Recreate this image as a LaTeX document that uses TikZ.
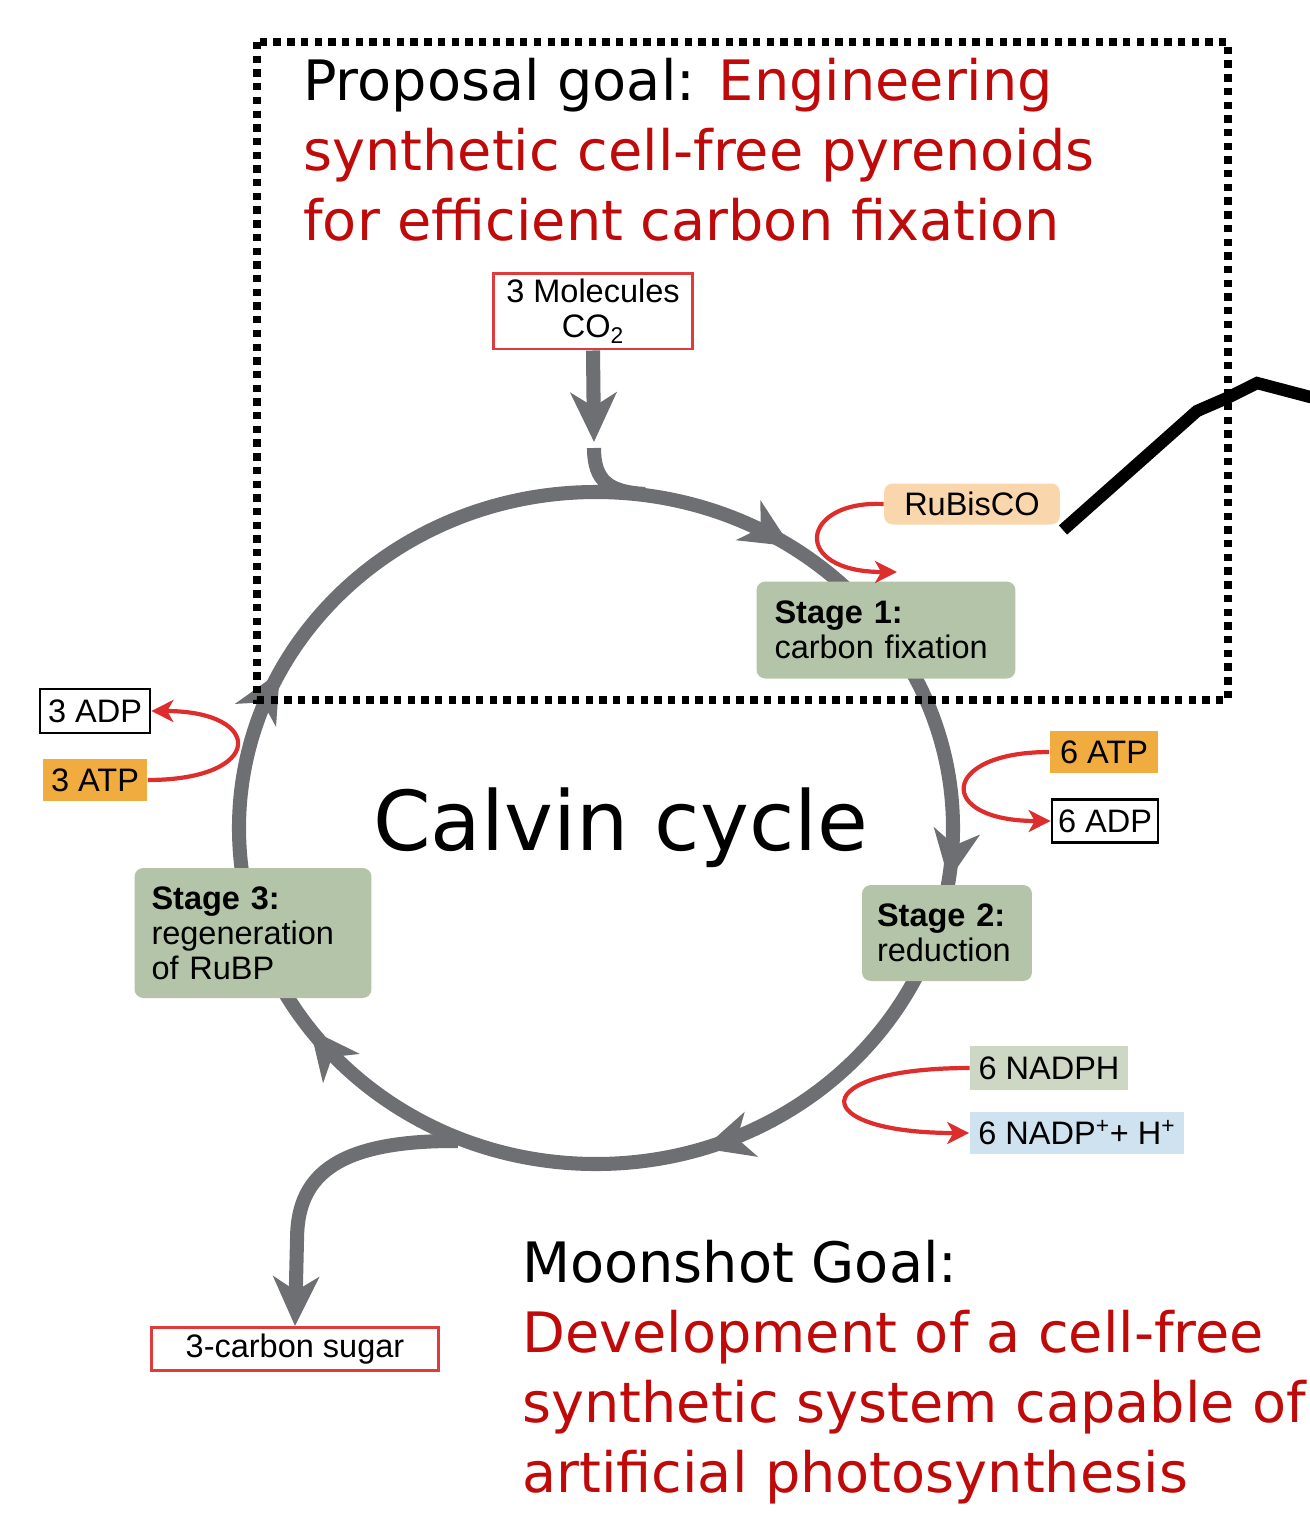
\documentclass[tikz,border=0pt]{standalone}
\usepackage{fontspec}
\setmainfont{Liberation Sans}
\newfontfamily\headfont{DejaVu Sans}
\usetikzlibrary{arrows.meta,decorations.markings}
\definecolor{cycgray}{RGB}{110,111,115}
\definecolor{goalred}{RGB}{192,10,10}
\definecolor{arrred}{RGB}{222,45,45}
\definecolor{boxred}{RGB}{222,60,60}
\definecolor{stagegreen}{RGB}{180,196,168}
\definecolor{atporange}{RGB}{240,172,62}
\definecolor{rubpeach}{RGB}{250,214,172}
\definecolor{nadphgreen}{RGB}{206,215,196}
\definecolor{nadpblue}{RGB}{206,226,240}
\tikzset{
  cyctip/.tip={Stealth[length=28pt,width=26pt,inset=8pt]},
  redtip/.tip={Stealth[length=12.5pt,width=12.5pt,inset=3.5pt]},
  cycline/.style={draw=cycgray, line width=8pt},
  cycarrows/.style={decoration={
    markings,
    mark=at position 0.094 with {\arrow{cyctip}},
    mark=at position 0.274 with {\arrow{cyctip}},
    mark=at position 0.450 with {\arrow{cyctip}},
    mark=at position 0.650 with {\arrow{cyctip}},
    mark=at position 0.825 with {\arrow{cyctip}}},
    postaction={decorate}},
  redarr/.style={draw=arrred, line width=2.4pt, -{redtip}},
  label/.style={font=\fontsize{18.5}{20}\selectfont, inner sep=0pt, align=center},
  stagebox/.style={label, fill=stagegreen, rounded corners=5pt, align=left},
  head/.style={font=\headfont\fontsize{31.7}{38}\selectfont, inner sep=0pt, anchor=base west}
}

\begin{document}
\begin{tikzpicture}[x=0.02cm,y=-0.02cm]
  \useasboundingbox (0,0) rectangle (1310,1526);

  % Calvin cycle ring
  \draw[cycline, cycarrows] (596,492) arc[start angle=-90, end angle=270, x radius=357, y radius=336];

  % CO2 in and sugar out
  \coordinate (co2tip) at (594,442);
  \coordinate (stubtop) at (594,448);
  \coordinate (fork) at (458,1141);
  \draw[cycline] (stubtop) .. controls (594,482) and (610,492) .. (645,494);

  % Boxes
  \node[label, draw=boxred, line width=1.7pt, fill=white, minimum width=4cm, minimum height=1.52cm] (co2) at (593,311) {3 Molecules\\CO\textsubscript{2}};
  \node[label, fill=rubpeach, rounded corners=5pt, minimum width=3.52cm, minimum height=0.82cm] (rub) at (972,504) {RuBisCO};
  \node[stagebox, inner xsep=0.36cm, text width=4.46cm, minimum height=1.94cm] (st1) at (886,630) {\textbf{Stage 1:}\\carbon fixation};
  \node[label, fill=atporange, minimum width=2.18cm, minimum height=0.84cm] (atp6) at (1104,752) {6 ATP};
  \node[label, draw=black, line width=1.6pt, fill=white, minimum width=2.12cm, minimum height=0.86cm] (adp6) at (1105,821) {6 ADP};
  \node[stagebox, inner xsep=0.3cm, text width=2.8cm, minimum height=1.92cm] (st2) at (947,933) {\textbf{Stage 2:}\\reduction};
  \node[label, fill=nadphgreen, minimum width=3.16cm, minimum height=0.88cm] (nadph) at (1049,1068) {6 NADPH};
  \node[label, fill=nadpblue, minimum width=4.3cm, minimum height=0.84cm] (nadp) at (1077,1133) {6 NADP\textsuperscript{+}+ H\textsuperscript{+}};
  \node[stagebox, inner xsep=0.34cm, text width=4.06cm, minimum height=2.6cm] (st3) at (253,933) {\textbf{Stage 3:}\\regeneration\\of RuBP};
  \node[label, draw=black, line width=1.6pt, fill=white, minimum width=2.2cm, minimum height=0.88cm] (adp3) at (95,711) {3 ADP};
  \node[label, fill=atporange, minimum width=2.1cm, minimum height=0.84cm] (atp3) at (95,780) {3 ATP};
  \node[label, draw=boxred, line width=1.7pt, fill=white, minimum width=5.74cm, minimum height=0.86cm] (sugar) at (295,1349) {3-carbon sugar};

  \draw[cycline, -{cyctip}] (co2.south) -- (co2tip);
  \draw[cycline, -{cyctip}] (fork) .. controls (330,1140) and (297,1180) .. (297,1240) -- (sugar.north);

  % Red side reactions
  \coordinate (rubend) at (897,572);
  \draw[redarr] (rub.west) .. controls (800,500) and (790,572) .. (rubend);
  \draw[redarr] (atp6.west) .. controls (940,752) and (935,821) .. (adp6.west);
  \draw[redarr] (nadph.west) .. controls (805,1068) and (805,1133) .. (nadp.west);
  \draw[redarr] (atp3.east) .. controls (265,780) and (265,711) .. (adp3.east);

  % Proposal frame and pointer
  \draw[line width=4.2pt, dash pattern=on 4.2pt off 3.6pt] (257,42) rectangle (1228,700);
  \draw[line width=7pt] (1063,530) -- (1197,411) -- (1227,398) -- (1257,383) -- (1314,398);

  % Titles
  \node[head] (pg1) at (303,100) {Proposal goal: \textcolor{goalred}{Engineering}};
  \node[head, goalred] (pg2) at (303,170) {synthetic cell-free pyrenoids};
  \node[head, goalred] (pg3) at (303,240) {for efficient carbon fixation};
  \node[font=\headfont\fontsize{47}{50}\selectfont, inner sep=0pt, anchor=base west] (calvin) at (373,850) {Calvin cycle};
  \node[head] (ms1) at (522,1282) {Moonshot Goal:};
  \node[head, goalred] (ms2) at (522,1352) {Development of a cell-free};
  \node[head, goalred] (ms3) at (522,1422) {synthetic system capable of};
  \node[head, goalred] (ms4) at (522,1492) {artificial photosynthesis};
\end{tikzpicture}
\end{document}
